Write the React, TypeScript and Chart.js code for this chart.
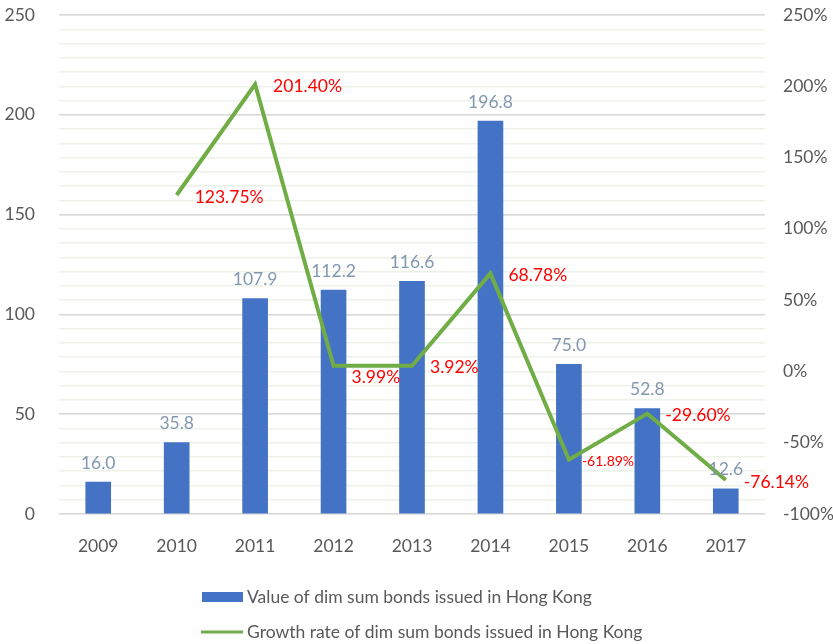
import React, { useEffect, useRef } from "react";
import { Chart, registerables } from "chart.js";

Chart.register(...registerables);

const years = ["2009", "2010", "2011", "2012", "2013", "2014", "2015", "2016", "2017"];
const bondValues = [16.0, 35.8, 107.9, 112.2, 116.6, 196.8, 75.0, 52.8, 12.6];
const growthRates: (number | null)[] = [null, 123.75, 201.4, 3.99, 3.92, 68.78, -61.89, -29.6, -76.14];
const barLabel = "Value of dim sum bonds issued in Hong Kong";
const lineLabel = "Growth rate of dim sum bonds issued in Hong Kong";

const FONT = "Lato, 'Open Sans', sans-serif";
const FS = 17.5;
const BAR_COLOR = "#4472C4";
const LINE_COLOR = "#70AD47";
const TEXT_COLOR = "#595959";

const labelsPlugin = {
  id: "customLabels",
  afterDatasetsDraw(chart: any) {
    const ctx = chart.ctx;
    ctx.save();
    const barMeta = chart.getDatasetMeta(1);
    ctx.font = `${FS}px ${FONT}`;
    ctx.fillStyle = "#8497B0";
    ctx.textAlign = "center";
    ctx.textBaseline = "middle";
    barMeta.data.forEach((el: any, i: number) => {
      ctx.fillText(bondValues[i].toFixed(1), el.x, el.y - 19);
    });
    const lineMeta = chart.getDatasetMeta(0);
    ctx.fillStyle = "#FF0000";
    ctx.textAlign = "left";
    lineMeta.data.forEach((el: any, i: number) => {
      const v = growthRates[i];
      if (v === null) return;
      const small = i === 6;
      ctx.font = `${small ? 14 : FS}px ${FONT}`;
      const dy = i === 3 ? 12 : 2;
      ctx.fillText(v.toFixed(2) + "%", el.x + (small ? 13 : 18), el.y + dy);
    });
    ctx.restore();
  },
  afterDraw(chart: any) {
    const ctx = chart.ctx;
    ctx.save();
    ctx.fillStyle = BAR_COLOR;
    ctx.fillRect(202, 592, 41, 10);
    ctx.strokeStyle = LINE_COLOR;
    ctx.lineWidth = 3;
    ctx.beginPath();
    ctx.moveTo(201, 632);
    ctx.lineTo(243, 632);
    ctx.stroke();
    ctx.font = `${FS}px ${FONT}`;
    ctx.fillStyle = TEXT_COLOR;
    ctx.textAlign = "left";
    ctx.textBaseline = "middle";
    ctx.fillText(barLabel, 247, 597);
    ctx.fillText(lineLabel, 247, 632);
    ctx.restore();
  },
};

export default function App() {
  const ref = useRef<HTMLCanvasElement>(null);
  useEffect(() => {
    if (!ref.current) return;
    const chart = new Chart(ref.current, {
      type: "bar",
      data: {
        labels: years,
        datasets: [
          {
            type: "line",
            label: lineLabel,
            data: growthRates,
            borderColor: LINE_COLOR,
            backgroundColor: LINE_COLOR,
            borderWidth: 4,
            pointRadius: 0,
            tension: 0,
            yAxisID: "y1",
            order: 0,
          } as any,
          {
            type: "bar",
            label: barLabel,
            data: bondValues,
            backgroundColor: BAR_COLOR,
            barThickness: 25,
            yAxisID: "y",
            order: 1,
          },
        ],
      },
      options: {
        animation: false,
        responsive: false,
        maintainAspectRatio: false,
        layout: { padding: { top: 15, left: 0, right: 0, bottom: 0 } },
        plugins: {
          legend: { display: false },
          tooltip: { enabled: false },
        },
        scales: {
          x: {
            grid: { display: false, drawTicks: false },
            border: { display: false },
            ticks: {
              color: TEXT_COLOR,
              font: { family: FONT, size: FS },
              padding: 22,
            },
            afterFit(scale: any) {
              scale.height = 130;
              scale.paddingLeft = 0;
              scale.paddingRight = 0;
            },
          },
          y1: {
            position: "right",
            min: -100,
            max: 250,
            grid: { color: "#EDF2E8", lineWidth: 1.5, drawTicks: false },
            border: { display: false },
            ticks: {
              stepSize: 10,
              autoSkip: false,
              color: TEXT_COLOR,
              font: { family: FONT, size: FS },
              padding: 18,
              callback: (v: any) => (Number(v) % 50 === 0 ? `${v}%` : ""),
            },
            afterFit(scale: any) {
              scale.width = 68;
              scale.paddingTop = 0;
              scale.paddingBottom = 0;
            },
          },
          y: {
            position: "left",
            min: 0,
            max: 250,
            grid: { color: "#D9D9D9", lineWidth: 1.5, drawTicks: false },
            border: { display: false },
            ticks: {
              stepSize: 50,
              color: TEXT_COLOR,
              font: { family: FONT, size: FS },
              padding: 24,
            },
            afterFit(scale: any) {
              scale.width = 59;
              scale.paddingTop = 0;
              scale.paddingBottom = 0;
            },
          },
        },
      },
      plugins: [labelsPlugin],
    });
    return () => chart.destroy();
  }, []);
  return (
    <div style={{ position: "absolute", left: 0, top: 0, width: 833, height: 644, background: "#fff" }}>
      <canvas ref={ref} width={833} height={644} style={{ width: 833, height: 644 }} />
    </div>
  );
}
